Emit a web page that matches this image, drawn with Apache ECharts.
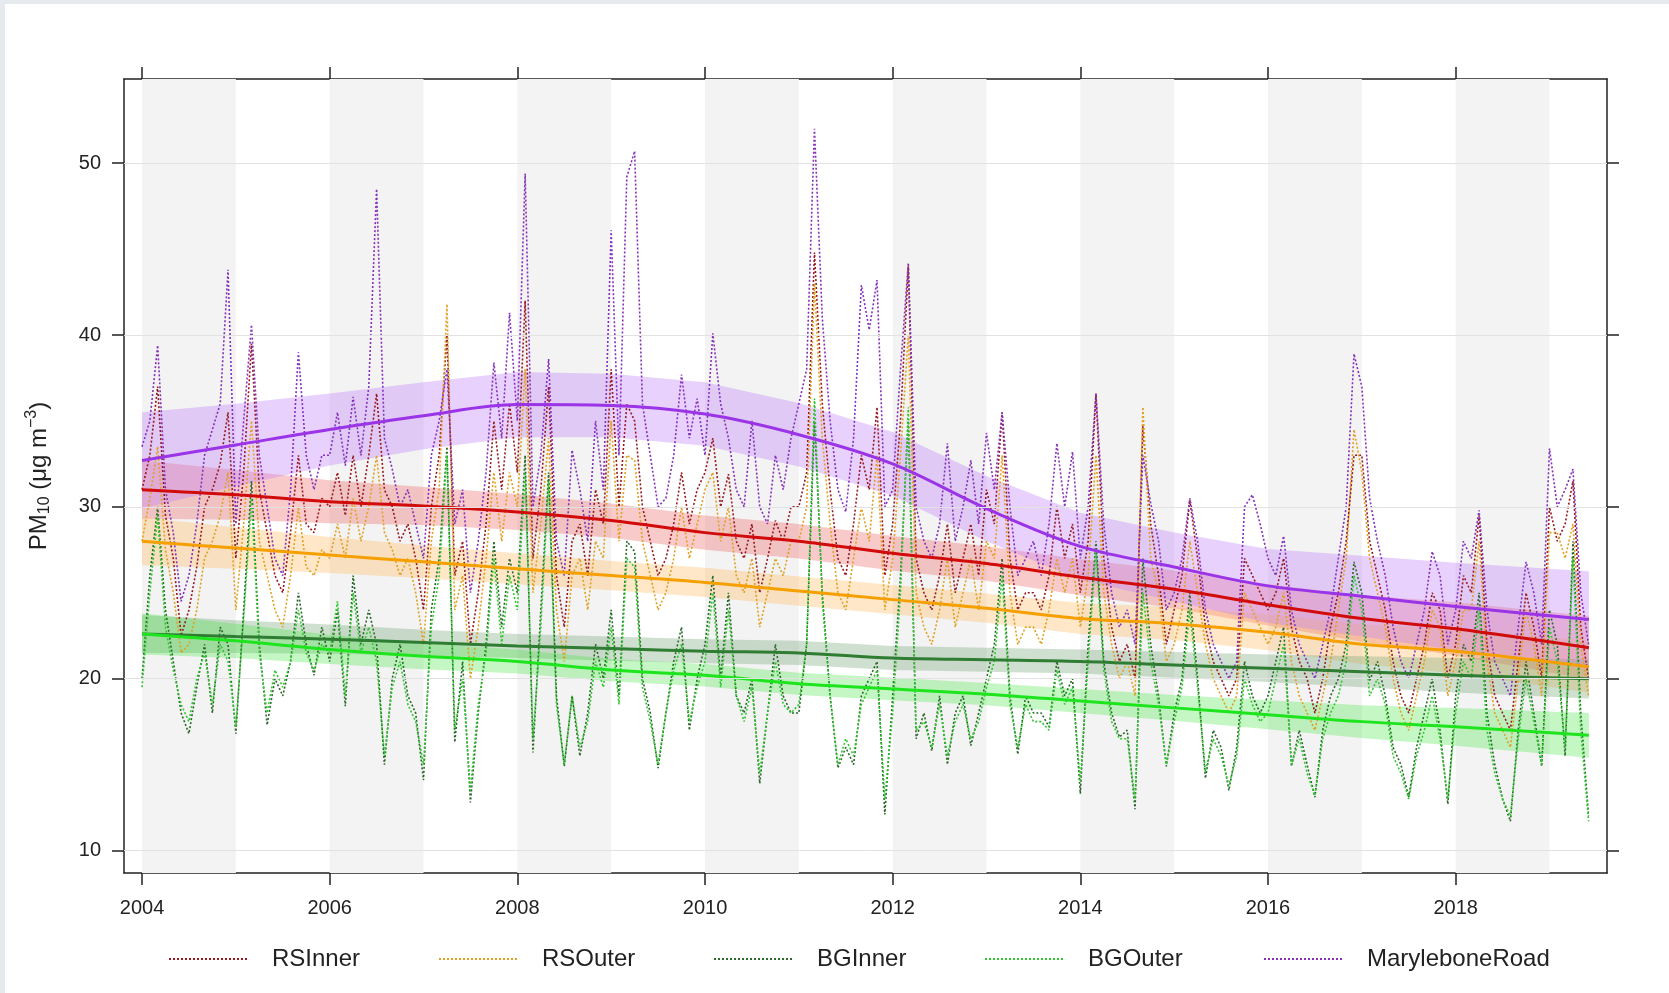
<!DOCTYPE html>
<html><head><meta charset="utf-8">
<script src="https://cdn.jsdelivr.net/npm/echarts@6/dist/echarts.min.js"></script>
<style>
html,body{margin:0;padding:0;background:#fff;}
#c{width:1669px;height:993px;position:absolute;left:0;top:0;}
.stripT{position:absolute;left:0;top:0;width:1669px;height:4px;background:#e6eaee;}
.stripL{position:absolute;left:0;top:0;width:5px;height:993px;background:#e6eaee;}
</style></head><body>
<div id="c"></div><div class="stripT"></div><div class="stripL"></div>
<script>
const FONT = "'Liberation Sans', Arial, sans-serif";
const seriesNames = ['RSInner', 'RSOuter', 'BGInner', 'BGOuter', 'MaryleboneRoad'];
const startYear = 2004;
const xTicks = [2004, 2006, 2008, 2010, 2012, 2014, 2016, 2018];
const yTicks = [10, 20, 30, 40, 50];
const shadedYears = [2004, 2006, 2008, 2010, 2012, 2014, 2016, 2018];

// monthly means, Jan 2004 .. Jun 2019
const RSInner = [
 31.0,33.0,37.0,29.5,27.0,22.5,24.0,26.5,30.0,31.0,32.5,35.5,
 27.0,32.0,39.5,31.0,28.5,26.0,25.0,28.5,33.0,29.0,28.5,30.5,
 30.0,32.0,29.5,33.0,30.0,33.0,36.6,31.0,30.0,28.0,29.0,27.0,
 24.0,30.0,33.0,40.0,26.0,28.0,22.0,25.0,29.0,35.0,31.0,36.0,
 32.0,42.0,27.0,31.0,37.0,26.0,23.0,28.0,29.0,26.0,31.0,29.0,
 38.0,30.0,36.0,35.0,30.0,28.0,26.0,27.0,29.0,32.0,29.0,31.0,
 32.0,34.0,30.0,31.9,28.0,27.0,29.0,25.0,27.0,29.2,28.0,30.0,
 30.0,32.0,44.8,36.0,31.0,27.0,26.0,29.0,33.0,31.0,35.8,26.0,
 29.0,35.0,44.0,27.0,25.0,24.0,26.0,29.0,25.0,27.0,29.0,26.0,
 31.0,29.0,35.5,27.0,24.0,25.0,25.0,24.0,26.0,30.0,27.0,29.0,
 25.0,28.0,36.6,27.0,23.0,21.0,22.0,20.0,34.7,29.0,26.0,22.0,
 24.0,26.0,30.4,27.0,23.0,21.0,20.0,19.0,20.0,27.0,26.0,25.0,
 24.0,25.0,27.0,23.0,21.0,20.0,18.0,20.0,23.0,25.0,28.0,33.0,
 33.0,28.0,26.0,24.0,21.0,19.0,18.0,20.0,22.0,25.0,24.0,20.0,
 22.0,26.0,25.0,29.5,22.0,19.0,18.0,17.0,21.0,25.0,23.0,20.0,
 30.0,28.0,29.0,31.5,23.0,20.0
];
const RSOuter = [
 28.0,30.5,33.5,27.5,25.0,21.5,22.0,24.0,27.0,28.0,29.5,32.0,
 24.0,29.0,35.0,28.0,26.0,24.0,23.0,26.0,30.0,26.5,26.0,27.5,
 27.0,29.0,27.0,30.5,28.0,30.0,33.0,28.5,27.5,26.0,27.0,25.0,
 22.0,28.0,31.0,41.8,24.0,26.0,20.0,23.0,27.0,32.0,28.0,32.0,
 30.0,38.0,25.0,29.0,34.0,24.0,21.0,26.0,27.0,24.0,28.0,27.0,
 35.0,28.0,33.0,32.7,28.0,26.0,24.0,25.0,27.0,30.0,27.0,29.0,
 31.0,32.0,28.0,30.0,26.0,25.0,27.0,23.0,25.0,27.0,26.0,28.0,
 28.0,30.0,43.0,34.0,29.0,25.0,24.0,27.0,30.0,28.0,33.0,24.0,
 27.0,33.0,40.0,25.0,23.0,22.0,24.0,27.0,23.0,25.0,27.0,24.0,
 28.0,27.0,33.0,25.0,22.0,23.0,23.0,22.0,24.0,27.0,25.0,27.0,
 23.0,26.0,33.0,25.0,22.0,20.0,21.0,19.0,35.8,27.0,25.0,21.0,
 22.0,24.0,28.0,25.0,22.0,20.0,19.0,18.0,19.0,25.0,24.0,23.0,
 22.0,23.0,25.0,21.0,19.0,18.0,17.0,19.0,21.0,24.0,27.0,34.5,
 32.0,27.0,25.0,23.0,20.0,18.0,17.0,19.0,21.0,24.0,23.0,19.0,
 21.0,24.0,24.0,28.0,21.0,18.0,17.0,16.0,20.0,24.0,22.0,19.0,
 28.5,28.5,27.0,29.0,22.0,19.0
];
const BGInner = [
 20.0,26.0,30.0,24.0,21.0,18.0,16.8,19.5,22.0,18.0,23.0,22.0,
 16.8,24.0,31.5,22.0,17.3,20.0,19.0,21.0,25.0,22.0,20.2,23.0,
 21.0,24.0,18.4,26.0,22.0,24.0,22.0,15.0,20.0,22.0,19.0,18.0,
 14.1,24.0,27.0,33.5,16.3,21.0,12.8,18.0,22.0,28.0,23.0,27.0,
 25.0,33.0,15.7,24.0,32.0,19.0,14.9,19.0,15.5,18.0,22.0,20.0,
 24.0,19.0,28.0,27.4,20.0,18.0,14.8,18.0,21.0,23.0,17.0,20.0,
 22.0,26.0,20.0,25.0,19.0,18.0,20.0,13.9,18.0,22.0,19.0,18.0,
 18.0,22.0,35.0,25.0,19.0,14.8,16.0,15.0,19.0,20.0,21.0,12.1,
 19.0,26.0,35.0,16.5,18.0,15.8,19.0,15.0,18.0,19.0,16.1,18.0,
 20.0,22.0,27.0,19.0,15.6,19.0,18.0,18.0,17.2,21.0,19.0,20.0,
 13.3,22.0,28.0,21.0,18.0,16.6,17.0,12.4,27.0,22.0,19.0,14.9,
 18.0,20.0,25.0,20.0,14.2,17.0,16.0,13.5,16.0,21.0,19.0,18.0,
 19.0,21.0,23.0,14.9,17.0,15.0,13.1,17.0,19.0,20.0,22.0,26.8,
 25.0,19.9,21.0,19.0,16.0,15.0,13.1,16.0,18.0,20.0,17.0,12.7,
 19.0,22.0,21.0,25.0,18.0,15.0,13.0,11.7,17.0,21.0,18.0,14.9,
 24.0,22.0,15.5,28.0,18.0,12.0
];
const BGOuter = [
 19.5,25.0,29.5,23.0,20.5,18.5,17.5,20.0,21.5,18.5,22.0,21.0,
 17.2,23.5,30.5,21.5,18.0,20.5,19.5,21.0,24.0,21.5,20.5,22.0,
 21.5,24.5,19.0,25.0,21.5,23.0,21.0,15.5,19.5,21.0,18.5,17.5,
 15.0,23.0,26.0,33.0,17.0,20.0,13.5,18.5,21.5,27.0,22.0,26.0,
 24.0,32.0,16.5,23.0,31.5,18.5,15.0,19.0,16.0,17.5,21.0,19.5,
 23.0,18.5,27.0,26.5,19.5,17.5,15.0,18.0,20.5,22.0,17.5,19.5,
 21.0,25.0,19.5,24.0,19.0,17.5,19.5,14.5,18.0,21.0,18.5,18.0,
 18.5,22.0,36.3,24.5,19.0,15.0,16.5,15.5,18.5,19.5,20.5,13.0,
 18.0,25.0,35.8,17.0,17.5,16.0,18.5,15.5,17.5,18.5,16.5,17.5,
 19.5,21.0,26.0,18.5,16.0,18.5,17.5,17.5,17.0,20.5,18.5,19.5,
 14.0,21.0,27.5,20.5,17.5,16.5,16.5,13.0,25.0,21.0,18.5,15.0,
 17.5,19.5,24.0,19.5,14.6,16.5,15.5,13.8,15.5,20.0,18.5,17.5,
 18.0,20.0,22.0,15.0,16.5,14.5,13.2,16.5,18.0,19.0,21.0,26.0,
 24.0,19.0,20.0,18.5,15.5,14.5,13.0,15.5,17.0,19.0,16.5,13.0,
 18.0,21.0,20.0,24.0,17.0,14.5,13.0,12.0,16.5,20.0,17.5,15.0,
 23.0,21.0,16.0,27.0,17.0,11.7
];
const MaryleboneRoad = [
 33.5,35.0,39.4,31.0,28.5,24.5,26.0,29.0,33.0,34.5,36.0,43.8,
 29.0,35.0,40.6,33.0,30.0,27.0,26.0,31.0,39.0,33.0,31.0,33.0,
 33.0,35.5,32.4,36.4,33.0,37.0,48.5,34.0,32.2,30.0,31.0,29.0,
 27.0,33.0,35.0,38.0,29.0,31.0,25.0,28.0,32.0,38.4,34.0,41.3,
 35.0,49.4,30.0,33.0,38.6,28.0,26.0,33.3,31.0,28.0,35.0,31.0,
 46.1,33.0,49.2,50.7,36.0,33.0,30.0,30.5,33.0,37.7,34.0,36.3,
 33.0,40.1,36.0,34.0,31.0,30.0,35.0,30.0,29.0,33.0,31.0,34.0,
 36.0,38.0,52.0,41.0,35.0,31.0,29.7,34.0,42.9,40.3,43.2,30.0,
 31.0,38.0,44.2,30.0,28.0,27.0,29.0,33.7,28.0,30.0,32.7,29.0,
 34.3,31.0,35.5,30.0,26.0,27.0,28.0,26.0,29.0,33.7,30.0,33.2,
 27.0,30.0,36.6,29.0,25.0,23.0,24.0,22.0,33.0,30.2,28.0,24.0,
 25.0,27.0,30.5,28.0,24.0,22.0,21.0,20.0,21.0,30.0,30.7,29.0,
 27.0,26.0,28.3,24.0,22.0,21.0,20.0,22.0,24.0,27.0,30.0,38.9,
 37.0,30.5,28.0,26.0,23.0,21.0,20.0,22.0,24.0,27.4,26.0,22.0,
 24.0,28.0,27.0,29.8,24.0,21.0,20.0,19.0,23.0,26.8,25.0,22.0,
 33.4,30.0,31.0,32.2,25.0,22.0
];

// smooth trend (knots) and half-width of the confidence band
const trendX = [2004,2005,2006,2007,2008,2009,2010,2011,2012,2013,2014,2015,2016,2017,2018,2019.42];
const trendRSInner = [31.0,30.7,30.3,30.05,29.7,29.2,28.5,28.0,27.3,26.7,25.9,25.2,24.3,23.5,22.9,21.8];
const trendRSOuter = [28.0,27.6,27.2,26.8,26.4,26.0,25.6,25.1,24.6,24.1,23.5,23.2,22.7,22.0,21.6,20.7];
const trendBGInner = [22.6,22.45,22.3,22.1,21.9,21.75,21.6,21.5,21.2,21.1,21.0,20.8,20.6,20.4,20.2,20.0];
const trendBGOuter = [22.6,22.2,21.7,21.3,21.0,20.5,20.2,19.7,19.4,19.1,18.7,18.3,17.9,17.5,17.2,16.7];
const trendMarylebone = [32.7,33.6,34.5,35.3,35.95,35.9,35.4,34.2,32.5,29.9,27.7,26.5,25.4,24.8,24.2,23.45];
const bandRSInner = [1.7,1.45,1.25,1.1,1.05,1.0,1.0,1.0,1.0,1.0,1.05,1.1,1.2,1.35,1.55,1.85];
const bandRSOuter = [1.4,1.2,1.05,0.95,0.9,0.85,0.85,0.85,0.85,0.85,0.9,0.95,1.05,1.15,1.3,1.5];
const bandBGInner = [1.1,0.95,0.85,0.75,0.7,0.7,0.7,0.7,0.7,0.7,0.7,0.75,0.8,0.9,1.0,1.15];
const bandBGOuter = [1.2,1.0,0.85,0.75,0.7,0.65,0.65,0.65,0.65,0.65,0.7,0.75,0.85,0.95,1.1,1.3];
const bandMarylebone = [2.8,2.4,2.1,1.95,1.9,1.85,1.85,1.85,1.85,1.9,1.95,2.0,2.15,2.35,2.55,2.8];

const rawData = [RSInner, RSOuter, BGInner, BGOuter, MaryleboneRoad];
const trends = [trendRSInner, trendRSOuter, trendBGInner, trendBGOuter, trendMarylebone];
const bands = [bandRSInner, bandRSOuter, bandBGInner, bandBGOuter, bandMarylebone];
const rawColors = ['#981820', '#e0a020', '#2a682a', '#2ec82e', '#8530bb'];
const trendColors = ['#d10a0a', '#f5a000', '#2e7d32', '#1ee41e', '#9a34e6'];
const bandColors = ['rgba(235,90,90,0.32)', 'rgba(255,180,80,0.32)', 'rgba(110,160,110,0.32)',
                    'rgba(70,230,70,0.32)', 'rgba(190,130,250,0.36)'];
const legendLeft = [168, 438, 713, 984, 1263];

const X_MIN = 2003.808, X_MAX = 2019.613, Y_MIN = 8.69, Y_MAX = 54.9;

const series = [];
series.push({
  type: 'line', data: [], silent: true, z: 0,
  markArea: { silent: true, itemStyle: { color: '#f3f3f3' },
    data: shadedYears.map(y => [{ xAxis: y }, { xAxis: y + 1 }]) },
  markLine: { silent: true, symbol: 'none', label: { show: false },
    lineStyle: { color: '#e2e2e2', width: 1, type: 'solid' },
    data: yTicks.map(v => ({ yAxis: v })) }
});
bands.forEach((half, k) => {
  const tr = trends[k];
  const pts = trendX.map((x, i) => [x, tr[i] - half[i], tr[i] + half[i]]);
  series.push({
    type: 'custom', silent: true, z: 1, clip: true,
    data: pts, encode: { x: 0, y: [1, 2] },
    renderItem: function (params, api) {
      if (params.dataIndex !== 0) return null;
      const poly = [];
      for (let i = 0; i < pts.length; i++) poly.push(api.coord([pts[i][0], pts[i][2]]));
      for (let i = pts.length - 1; i >= 0; i--) poly.push(api.coord([pts[i][0], pts[i][1]]));
      return { type: 'polygon', shape: { points: poly }, style: { fill: bandColors[k] } };
    }
  });
});
rawData.forEach((arr, k) => {
  series.push({
    name: seriesNames[k], type: 'line', symbol: 'none', z: 2,
    data: arr.map((v, i) => [startYear + i / 12, v]),
    lineStyle: { color: rawColors[k], width: 1.6, type: [2, 2] },
    itemStyle: { color: rawColors[k] }
  });
});
trends.forEach((tr, k) => {
  series.push({
    name: seriesNames[k] + ' trend', type: 'line', symbol: 'none', z: 3, smooth: 0.35,
    data: trendX.map((x, i) => [x, tr[i]]),
    lineStyle: { color: trendColors[k], width: 3 }
  });
});

const axisLineStyle = { color: '#222', width: 1.5 };
const labelStyle = { fontSize: 20, color: '#222', fontFamily: FONT };

const option = {
  animation: false,
  backgroundColor: '#ffffff',
  grid: { left: 124, right: 62, top: 79, bottom: 120, containLabel: false },
  xAxis: [
    { type: 'value', position: 'bottom', min: X_MIN, max: X_MAX,
      axisLine: { show: true, lineStyle: axisLineStyle },
      axisTick: { show: true, length: 12, lineStyle: axisLineStyle, customValues: xTicks },
      axisLabel: { show: true, customValues: xTicks, margin: 25, formatter: v => String(v), ...labelStyle },
      splitLine: { show: false } },
    { type: 'value', position: 'top', min: X_MIN, max: X_MAX,
      axisLine: { show: true, lineStyle: axisLineStyle },
      axisTick: { show: true, length: 12, lineStyle: axisLineStyle, customValues: xTicks },
      axisLabel: { show: false }, splitLine: { show: false } }
  ],
  yAxis: [
    { type: 'value', position: 'left', min: Y_MIN, max: Y_MAX,
      axisLine: { show: true, lineStyle: axisLineStyle },
      axisTick: { show: true, length: 12, lineStyle: axisLineStyle, customValues: yTicks },
      axisLabel: { show: true, customValues: yTicks, margin: 23, ...labelStyle },
      splitLine: { show: false },
      name: '{n|PM}{sub|10}{n| (μg m}{sup|−3}{n|)}',
      nameLocation: 'middle', nameRotate: 90, nameGap: 70,
      nameTextStyle: { fontSize: 24, color: '#222', fontFamily: FONT,
        rich: {
          n: { fontSize: 24, color: '#222', fontFamily: FONT },
          sub: { fontSize: 16, color: '#222', fontFamily: FONT, padding: [12, 0, 0, 0] },
          sup: { fontSize: 16, color: '#222', fontFamily: FONT, padding: [0, 0, 14, 0] }
        } } },
    { type: 'value', position: 'right', min: Y_MIN, max: Y_MAX,
      axisLine: { show: true, lineStyle: axisLineStyle },
      axisTick: { show: true, length: 12, lineStyle: axisLineStyle, customValues: yTicks },
      axisLabel: { show: false }, splitLine: { show: false } }
  ],
  legend: seriesNames.map((n, i) => ({
    data: [n], left: legendLeft[i], top: 947, itemWidth: 78, itemHeight: 14, padding: 0,
    selectedMode: false,
    itemStyle: { opacity: 0 },
    textStyle: { fontSize: 24, color: '#222', fontFamily: FONT, padding: [0, 0, 0, 20] }
  })),
  series: series
};

const chart = echarts.init(document.getElementById('c'), null, { renderer: 'canvas' });
chart.setOption(option);
</script></body></html>
